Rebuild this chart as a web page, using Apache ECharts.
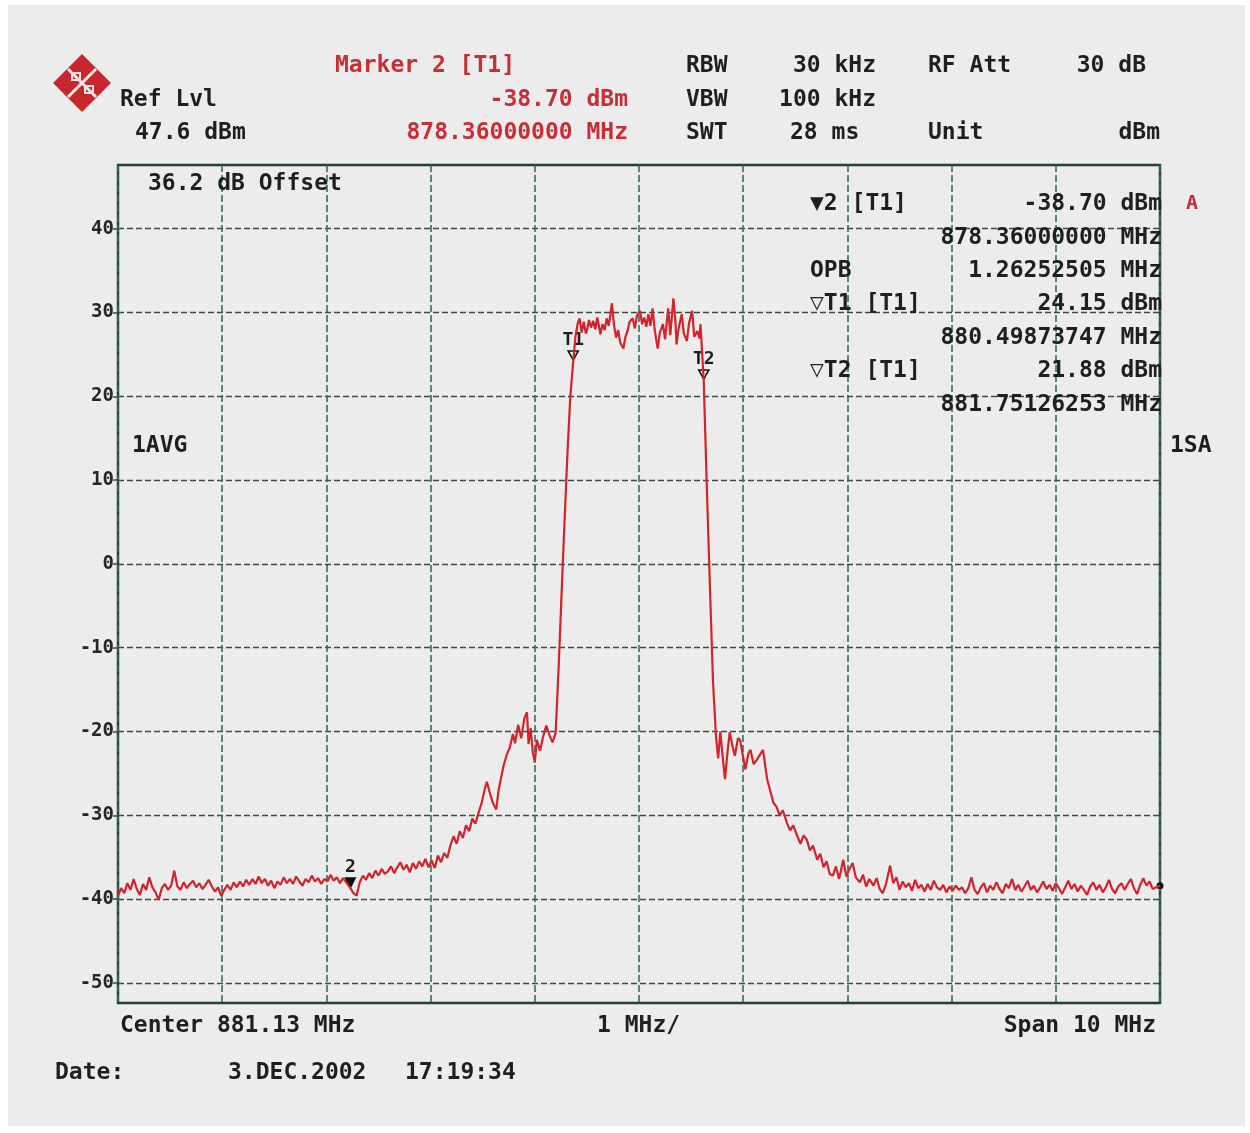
<!DOCTYPE html>
<html>
<head>
<meta charset="utf-8">
<title>Spectrum 881.13 MHz</title>
<script src="https://cdn.jsdelivr.net/npm/echarts@6/dist/echarts.min.js"></script>
<style>
  html, body { margin: 0; padding: 0; background: #ffffff; }
  #chart { width: 1250px; height: 1133px; }
</style>
</head>
<body>
<div id="chart"></div>
<script>
// Sweep: centre 881.13 MHz, span 10 MHz, ref level 47.6 dBm, 10 dB/div
const freqMin = 876.13;
const freqMax = 886.13;
const refLevel = 47.6;
const levelBottom = -52.4;

// Grid positions (1 MHz / div) and level ticks (10 dB / div)
const freqGrid = [876.13, 877.13, 878.13, 879.13, 880.13, 881.13, 882.13, 883.13, 884.13, 885.13, 886.13];
const levelTicks = [40, 30, 20, 10, 0, -10, -20, -30, -40, -50];

// Trace 1 (AVG), [MHz, dBm]
const floorLeft = [
  [876.13,-39.6],[876.16,-38.7],[876.19,-39.3],[876.22,-38.1],[876.25,-38.9],[876.28,-37.6],[876.31,-38.8],[876.34,-39.5],
  [876.37,-38.2],[876.40,-38.9],[876.43,-37.4],[876.46,-38.6],[876.49,-39.2],[876.52,-40.1],[876.55,-38.7],[876.58,-38.2],
  [876.61,-38.9],[876.64,-38.4],[876.67,-36.6],[876.70,-38.5],[876.73,-38.9],[876.76,-38.0],[876.79,-38.7],[876.82,-38.2],
  [876.85,-37.8],[876.88,-38.6],[876.91,-38.1],[876.94,-38.8],[876.97,-38.3],[877.00,-37.7],[877.03,-38.5],[877.06,-39.1],
  [877.09,-38.6],[877.12,-39.6],[877.15,-38.9],[877.18,-38.3],[877.21,-38.9],[877.24,-38.0],[877.27,-38.6],[877.30,-37.9],
  [877.33,-38.5],[877.36,-37.7],[877.39,-38.3],[877.42,-37.6],[877.45,-38.2],[877.48,-37.3],[877.51,-38.1],[877.54,-37.6],
  [877.57,-38.4],[877.60,-37.8],[877.63,-38.7],[877.66,-37.9],[877.69,-38.3],[877.72,-37.4],[877.75,-38.1],[877.78,-37.6],
  [877.81,-38.2],[877.84,-37.3],[877.87,-37.9],[877.90,-38.4],[877.93,-37.6],[877.96,-38.0],[877.99,-37.2],[878.02,-37.9],
  [878.05,-37.5],[878.08,-38.2],[878.11,-37.6],[878.14,-37.9],[878.17,-37.1],[878.20,-37.8],[878.23,-37.4],[878.26,-38.1],
  [878.29,-37.5],[878.32,-38.0],[878.36,-38.70],[878.39,-39.3],[878.42,-39.6],[878.45,-38.0],[878.48,-37.2]
];
const shoulderLeft = [
  [878.51,-37.7],[878.54,-36.9],[878.57,-37.5],[878.60,-36.6],[878.63,-37.2],[878.66,-36.4],[878.69,-37.0],[878.72,-36.7],
  [878.75,-36.1],[878.78,-36.9],[878.81,-36.2],[878.84,-35.6],[878.87,-36.5],[878.90,-35.9],[878.93,-36.8],[878.96,-35.7],
  [878.99,-36.4],[879.02,-35.5],[879.05,-36.1],[879.08,-35.2],[879.11,-36.2],[879.14,-35.4],[879.17,-36.3],[879.20,-34.8],
  [879.23,-35.6],[879.26,-34.5],[879.29,-35.1],[879.32,-33.6],[879.35,-32.5],[879.38,-33.4],[879.41,-31.9],[879.44,-32.7],
  [879.47,-31.2],[879.50,-31.9],[879.53,-30.4],[879.56,-31.0],[879.59,-29.7],[879.62,-28.5],[879.65,-26.9],[879.67,-26.0],
  [879.70,-27.4],[879.73,-28.6],[879.76,-29.3],[879.78,-27.2],[879.80,-25.9],[879.83,-24.1],[879.86,-22.8],[879.89,-21.9],
  [879.92,-20.3],[879.94,-21.4],[879.97,-19.2],[880.00,-20.8],[880.03,-18.4],[880.055,-17.7],[880.07,-21.5],[880.09,-19.6],
  [880.11,-22.4],[880.13,-23.7],[880.15,-21.0],[880.18,-22.3],[880.21,-20.6],[880.24,-19.3],[880.27,-20.4],[880.30,-21.3],
  [880.33,-20.2],[880.36,-12.0],[880.40,0.5],[880.44,12.3],[880.47,19.8],[880.49873747,24.15]
];
const channelTop = [
  [880.52,27.1],[880.54,28.6],[880.56,29.3],[880.58,27.6],[880.60,28.9],[880.62,27.5],[880.63,27.8],[880.65,29.1],
  [880.67,28.2],[880.69,29.0],[880.71,28.0],[880.73,29.4],[880.76,27.4],[880.78,28.6],[880.80,27.9],[880.82,29.3],
  [880.84,28.4],[880.87,31.1],[880.89,28.5],[880.91,27.0],[880.93,27.9],[880.95,26.4],[880.98,25.7],[881.00,27.1],
  [881.02,27.8],[881.04,28.9],[881.07,29.3],[881.09,28.1],[881.11,29.6],[881.14,30.2],[881.16,28.6],[881.18,29.4],
  [881.20,28.3],[881.22,29.8],[881.24,28.4],[881.26,30.5],[881.28,28.0],[881.30,26.4],[881.31,25.7],[881.33,27.6],
  [881.36,28.6],[881.38,26.8],[881.41,30.5],[881.43,27.3],[881.46,31.7],[881.48,28.9],[881.49,26.2],[881.51,28.1],
  [881.54,29.8],[881.56,27.5],[881.59,26.6],[881.61,28.7],[881.64,30.2],[881.66,27.1],[881.69,27.8],[881.71,26.9],
  [881.72,28.6],[881.735,25.4],[881.75126253,21.88]
];
const shoulderRight = [
  [881.78,9.5],[881.81,-2.5],[881.84,-14.0],[881.87,-20.8],[881.89,-23.2],[881.91,-20.0],[881.93,-22.6],[881.955,-25.7],
  [881.98,-22.4],[882.00,-20.1],[882.03,-21.9],[882.05,-22.9],[882.08,-20.8],[882.10,-21.0],[882.13,-23.1],[882.15,-24.5],
  [882.18,-22.6],[882.20,-22.2],[882.23,-23.9],[882.26,-23.4],[882.29,-22.8],[882.32,-22.2],[882.34,-24.0],[882.36,-25.7],
  [882.39,-27.1],[882.42,-28.5],[882.45,-29.0],[882.48,-30.0],[882.51,-29.4],[882.55,-30.9],[882.58,-31.8],[882.61,-31.2],
  [882.65,-32.5],[882.68,-33.4],[882.71,-32.4],[882.74,-32.9],[882.77,-34.2],[882.80,-33.6],[882.84,-35.3],[882.87,-34.6],
  [882.90,-36.2],[882.93,-35.5],[882.96,-37.0],[882.99,-37.2],[883.02,-36.1],[883.05,-37.6],[883.09,-35.3],[883.12,-37.3],
  [883.15,-36.4],[883.18,-35.7],[883.21,-37.4],[883.25,-38.0],[883.28,-37.1],[883.31,-38.5],[883.34,-37.6],[883.38,-38.4],
  [883.41,-37.5],[883.44,-38.8],[883.47,-39.3],[883.50,-38.2],[883.54,-36.0],[883.57,-38.1],[883.60,-37.4],[883.63,-38.9]
];
const floorRight = [
  [883.66,-37.9],[883.69,-38.6],[883.72,-38.1],[883.75,-39.0],[883.78,-37.7],[883.81,-38.7],[883.84,-38.3],[883.87,-39.1],
  [883.90,-38.2],[883.93,-38.9],[883.96,-37.8],[883.99,-38.6],[884.02,-38.9],[884.05,-38.3],[884.08,-39.2],[884.11,-38.5],
  [884.14,-39.0],[884.17,-38.4],[884.20,-38.9],[884.23,-38.6],[884.26,-39.3],[884.29,-38.7],[884.32,-37.4],[884.35,-38.9],
  [884.38,-39.4],[884.41,-38.6],[884.44,-38.1],[884.47,-39.2],[884.50,-38.4],[884.53,-38.9],[884.56,-38.0],[884.59,-38.8],
  [884.62,-39.3],[884.65,-38.2],[884.68,-38.7],[884.71,-37.6],[884.74,-38.9],[884.77,-38.3],[884.80,-39.1],[884.83,-38.5],
  [884.86,-37.8],[884.89,-38.9],[884.92,-38.4],[884.95,-39.2],[884.98,-38.6],[885.01,-37.9],[885.04,-38.8],[885.07,-38.3],
  [885.10,-39.0],[885.13,-38.1],[885.16,-38.7],[885.19,-39.4],[885.22,-38.6],[885.25,-37.8],[885.28,-38.8],[885.31,-38.2],
  [885.34,-39.1],[885.37,-38.4],[885.40,-38.9],[885.43,-39.5],[885.46,-38.5],[885.49,-38.0],[885.52,-38.9],[885.55,-38.3],
  [885.58,-39.2],[885.61,-38.6],[885.64,-37.7],[885.67,-38.8],[885.70,-39.3],[885.73,-38.5],[885.76,-38.1],[885.79,-38.9],
  [885.82,-38.2],[885.85,-37.6],[885.88,-38.7],[885.91,-39.4],[885.94,-38.3],[885.97,-37.5],[886.00,-38.4],[886.03,-37.9],
  [886.06,-38.8],[886.09,-38.6],[886.13,-38.4]
];

// Markers
const marker2 = [878.36, -38.70];
const markerT1 = [880.49873747, 24.15];
const markerT2 = [881.75126253, 21.88];

const trace = [].concat(floorLeft, shoulderLeft, channelTop, shoulderRight, floorRight);
const traceEnd = trace[trace.length - 1];

const MONO = '"DejaVu Sans Mono", "Liberation Mono", monospace';
const INK = '#1f1f1f';
const RED = '#c62f36';
const GRID_V = '#2f6f62';
const GRID_H = '#3c4a46';

function txt(x, y, s, opts) {
  opts = opts || {};
  return {
    type: 'text', x: x, y: y, z: 50,
    style: {
      text: s,
      fill: opts.color || INK,
      font: 'bold ' + (opts.size || 23) + 'px ' + MONO,
      textAlign: opts.align || 'left',
      textVerticalAlign: 'middle'
    }
  };
}

const chart = echarts.init(document.getElementById('chart'), null, { renderer: 'canvas' });

const graphics = [
  // paper
  { type: 'rect', z: -100, shape: { x: 8, y: 5, width: 1237, height: 1121 }, style: { fill: '#ececec' } },
  // instrument logo
  { type: 'polygon', z: 40, shape: { points: [[82, 54], [111, 83], [82, 112], [53, 83]] }, style: { fill: '#c8262d' } },
  { type: 'polyline', z: 41, shape: { points: [[68, 69], [96, 97]] }, style: { stroke: '#f3e6e6', lineWidth: 3 } },
  { type: 'polyline', z: 41, shape: { points: [[96, 69], [68, 97]] }, style: { stroke: '#f3e6e6', lineWidth: 3 } },
  { type: 'rect', z: 42, shape: { x: 72, y: 73, width: 8, height: 7 }, style: { fill: 'none', stroke: '#f3e6e6', lineWidth: 2 } },
  { type: 'rect', z: 42, shape: { x: 85, y: 86, width: 8, height: 7 }, style: { fill: 'none', stroke: '#f3e6e6', lineWidth: 2 } },

  // header
  txt(120, 100, 'Ref Lvl'),
  txt(135, 133, '47.6 dBm'),
  txt(335, 66, 'Marker 2 [T1]', { color: RED }),
  txt(628, 100, '-38.70 dBm', { color: RED, align: 'right' }),
  txt(628, 133, '878.36000000 MHz', { color: RED, align: 'right' }),
  txt(686, 66, 'RBW'),
  txt(876, 66, '30 kHz', { align: 'right' }),
  txt(686, 100, 'VBW'),
  txt(876, 100, '100 kHz', { align: 'right' }),
  txt(686, 133, 'SWT'),
  txt(790, 133, '28 ms'),
  txt(928, 66, 'RF Att'),
  txt(1146, 66, '30 dB', { align: 'right' }),
  txt(928, 133, 'Unit'),
  txt(1160, 133, 'dBm', { align: 'right' }),

  // inside the diagram
  txt(148, 184, '36.2 dB Offset'),
  txt(132, 446, '1AVG'),
  txt(1170, 446, '1SA'),

  // marker table
  txt(810, 204, '\u25BC2 [T1]'),
  txt(1162, 204, '-38.70 dBm', { align: 'right' }),
  txt(1162, 238, '878.36000000 MHz', { align: 'right' }),
  txt(810, 271, 'OPB'),
  txt(1162, 271, '1.26252505 MHz', { align: 'right' }),
  txt(810, 304, '\u25BDT1 [T1]'),
  txt(1162, 304, '24.15 dBm', { align: 'right' }),
  txt(1162, 338, '880.49873747 MHz', { align: 'right' }),
  txt(810, 371, '\u25BDT2 [T1]'),
  txt(1162, 371, '21.88 dBm', { align: 'right' }),
  txt(1162, 405, '881.75126253 MHz', { align: 'right' }),
  txt(1192, 204, 'A', { color: RED, size: 20, align: 'center' }),

  // footer
  txt(120, 1026, 'Center 881.13 MHz'),
  txt(597, 1026, '1 MHz/'),
  txt(1156, 1026, 'Span 10 MHz', { align: 'right' }),
  txt(55, 1073, 'Date:'),
  txt(228, 1073, '3.DEC.2002'),
  txt(405, 1073, '17:19:34')
];

const option = {
  backgroundColor: 'transparent',
  animation: false,
  grid: {
    left: 118, top: 165, width: 1042, height: 838,
    show: true, borderColor: '#22403a', borderWidth: 2.5, backgroundColor: 'transparent'
  },
  xAxis: {
    type: 'value',
    min: freqMin, max: freqMax,
    axisLine: { show: false },
    axisLabel: { show: false },
    axisTick: { show: false, customValues: freqGrid },
    splitLine: { show: true, lineStyle: { color: GRID_V, width: 1.6, type: [7, 3] } }
  },
  yAxis: {
    type: 'value',
    min: levelBottom, max: refLevel,
    axisLine: { show: false },
    axisTick: { show: true, length: 5, customValues: levelTicks, lineStyle: { color: GRID_H, width: 1.5 } },
    axisLabel: {
      customValues: levelTicks,
      margin: 4,
      color: '#262626',
      fontFamily: MONO,
      fontWeight: 'bold',
      fontSize: 19,
      formatter: v => String(v)
    },
    splitLine: { show: true, lineStyle: { color: GRID_H, width: 1.4, type: [6, 3] } }
  },
  series: [
    {
      type: 'line',
      data: trace,
      symbol: 'none',
      lineStyle: { color: '#d3232c', width: 2.2 },
      z: 10,
      markPoint: {
        silent: true,
        animation: false,
        data: [
          {
            coord: marker2, symbol: 'triangle', symbolRotate: 180, symbolSize: 12, symbolOffset: [0, -5],
            itemStyle: { color: '#111' },
            label: { show: true, formatter: '2', position: 'top', distance: 1, color: INK, fontFamily: MONO, fontWeight: 'bold', fontSize: 18 }
          },
          {
            coord: markerT1, symbol: 'triangle', symbolRotate: 180, symbolSize: [10, 9], symbolOffset: [0, -6],
            itemStyle: { color: 'rgba(0,0,0,0)', borderColor: '#111', borderWidth: 1.6 },
            label: { show: true, formatter: 'T1', position: 'top', distance: 1, color: INK, fontFamily: MONO, fontWeight: 'bold', fontSize: 18 }
          },
          {
            coord: markerT2, symbol: 'triangle', symbolRotate: 180, symbolSize: [10, 9], symbolOffset: [0, -6],
            itemStyle: { color: 'rgba(0,0,0,0)', borderColor: '#111', borderWidth: 1.6 },
            label: { show: true, formatter: 'T2', position: 'top', distance: 1, color: INK, fontFamily: MONO, fontWeight: 'bold', fontSize: 18 }
          },
          {
            coord: traceEnd, symbol: 'circle', symbolSize: 7,
            itemStyle: { color: '#111' },
            label: { show: false }
          }
        ]
      }
    }
  ],
  graphic: graphics
};

chart.setOption(option);
</script>
</body>
</html>
